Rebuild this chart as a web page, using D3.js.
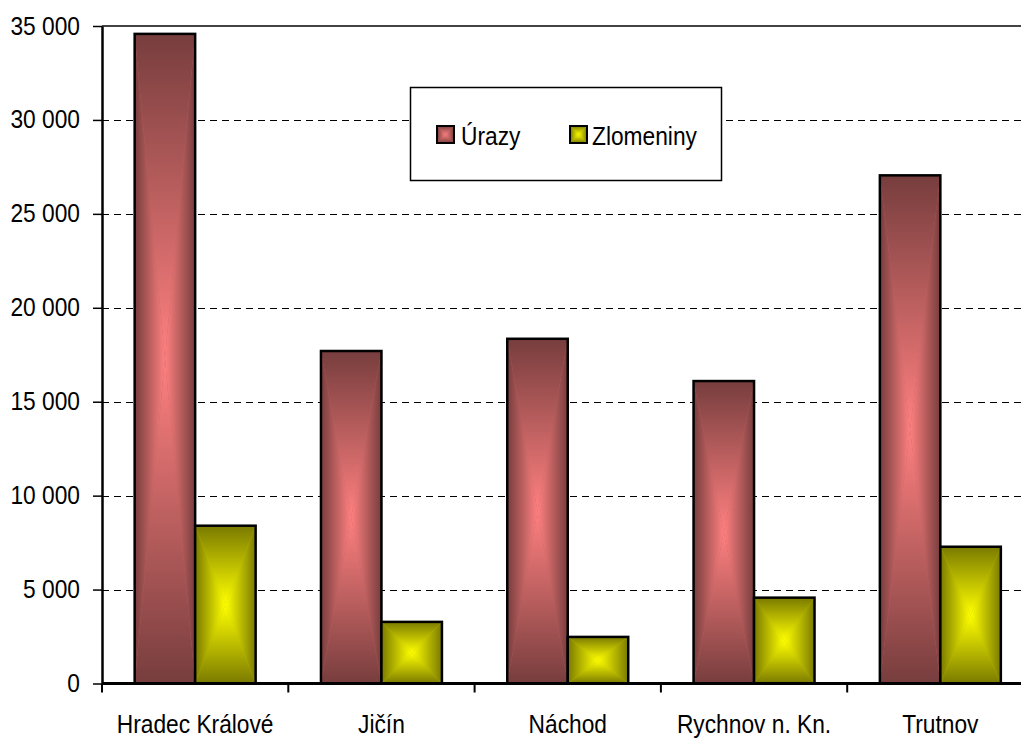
<!DOCTYPE html>
<html><head><meta charset="utf-8">
<script src="https://cdn.jsdelivr.net/npm/d3@7"></script>
<style>
html,body{margin:0;padding:0;background:#fff;}
text{font-family:"Liberation Sans",Arial,sans-serif;font-size:25px;fill:#000;}
</style></head>
<body><svg id="c" width="1021" height="738"></svg>
<script>
const categories = ["Hradec Králové","Jičín","Náchod","Rychnov n. Kn.","Trutnov"];
const seriesNames = ["Úrazy","Zlomeniny"];
const urazy = [34580, 17700, 18350, 16100, 27050];
const zlomeniny = [8400, 3280, 2480, 4570, 7280];
const yTicks = [0,5000,10000,15000,20000,25000,30000,35000];
const yTickLabels = ["0","5 000","10 000","15 000","20 000","25 000","30 000","35 000"];
const seriesColors = [["#773d3d","#ff8080"],["#7a7a00","#ffff00"]];

(function(){
const FONT = "Liberation Sans, Arial, sans-serif";
const SX = 0.91;
const svg = d3.select("#c");
const pLeft = 102, pTop = 26, pBottom = 683.5, pRight = 1033.5;

const x = d3.scaleBand().domain(categories).range([pLeft, pRight]).paddingInner(0).paddingOuter(0);
const xs = d3.scaleBand().domain(seriesNames).range([0, x.bandwidth()]).paddingInner(0).paddingOuter(0.54);
const y = d3.scaleLinear().domain([0, 35000]).range([pBottom, pTop]);

const defs = svg.append("defs");
seriesColors.forEach((c,i)=>{
  const mk=(id,x1,y1,x2,y2,c1,c2)=>{
    const g=defs.append("linearGradient").attr("id",id).attr("x1",x1).attr("y1",y1).attr("x2",x2).attr("y2",y2);
    g.append("stop").attr("offset","0").attr("stop-color",c1);
    g.append("stop").attr("offset","1").attr("stop-color",c2);
  };
  mk("gT"+i,0,0,0,1,c[0],c[1]);
  mk("gB"+i,0,0,0,1,c[1],c[0]);
  mk("gL"+i,0,0,1,0,c[0],c[1]);
  mk("gR"+i,0,0,1,0,c[1],c[0]);
});

function boxFill(g, x0, y0, x1, y1, i, sw){
  const cx=(x0+x1)/2, cy=(y0+y1)/2;
  const mid = d3.interpolateRgb(seriesColors[i][0], seriesColors[i][1])(0.5);
  g.append("rect").attr("x",x0).attr("y",y0).attr("width",x1-x0).attr("height",y1-y0).attr("fill",mid);
  const poly=(pts,id)=>g.append("polygon").attr("points",pts.map(p=>p.join(",")).join(" ")).attr("fill","url(#"+id+")");
  poly([[x0,y0],[x1,y0],[cx,cy]],"gT"+i);
  poly([[x0,y1],[x1,y1],[cx,cy]],"gB"+i);
  poly([[x0,y0],[x0,y1],[cx,cy]],"gL"+i);
  poly([[x1,y0],[x1,y1],[cx,cy]],"gR"+i);
  g.append("rect").attr("x",x0).attr("y",y0).attr("width",x1-x0).attr("height",y1-y0)
    .attr("fill","none").attr("stroke","#000").attr("stroke-width",sw);
}

svg.append("g").selectAll("line").data(yTicks.filter(v=>v>0 && v<35000)).join("line")
  .attr("x1",pLeft).attr("x2",1021).attr("y1",d=>Math.round(y(d))+0.5).attr("y2",d=>Math.round(y(d))+0.5)
  .attr("stroke","#000").attr("stroke-width",1).attr("stroke-dasharray","7,5");
svg.append("line").attr("x1",pLeft).attr("x2",1021).attr("y1",y(35000)).attr("y2",y(35000))
  .attr("stroke","#444").attr("stroke-width",2);

const series = [urazy, zlomeniny];
const barsG = svg.append("g");
categories.forEach((c,ci)=>{
  series.forEach((vals,si)=>{
    const x0 = x(c)+xs(seriesNames[si]);
    const x1 = x0+xs.bandwidth();
    boxFill(barsG.append("g"), x0, y(vals[ci]), x1, y(0), si, 2.5);
  });
});

const ya = svg.append("g").attr("transform",`translate(${pLeft},0)`)
  .call(d3.axisLeft(y).tickValues(yTicks).tickFormat((d,i)=>yTickLabels[i]).tickSize(9).tickPadding(12).tickSizeOuter(0));
ya.select(".domain").attr("stroke","#000").attr("stroke-width",2.5);
ya.selectAll(".tick line").attr("stroke","#000").attr("stroke-width",1.5);
ya.selectAll(".tick text").attr("font-size",25).attr("font-family",FONT)
  .attr("x",0).attr("dy","0.32em").attr("transform",`translate(-22,0) scale(${SX},1)`);

const xa = svg.append("g").attr("transform",`translate(0,${pBottom})`)
  .call(d3.axisBottom(x).tickSize(0).tickPadding(34).tickSizeOuter(0));
xa.select(".domain").attr("d",`M${pLeft},0H1021`).attr("stroke","#000").attr("stroke-width",3);
xa.selectAll(".tick text").attr("font-size",25).attr("font-family",FONT).attr("dy",null).attr("y",0)
  .attr("transform",`translate(0,49.5) scale(${SX},1)`);
svg.append("g").selectAll("line").data(categories).join("line")
  .attr("x1",d=>x(d)).attr("x2",d=>x(d)).attr("y1",pBottom).attr("y2",pBottom+9)
  .attr("stroke","#000").attr("stroke-width",2);

const lg = svg.append("g");
lg.append("rect").attr("x",410.5).attr("y",87.5).attr("width",311).attr("height",93)
  .attr("fill","#fff").attr("stroke","#000").attr("stroke-width",1.5);
const legX = [437, 570], legTX = [461, 592];
seriesNames.forEach((n,i)=>{
  boxFill(lg.append("g"), legX[i], 126, legX[i]+17, 143, i, 2);
  lg.append("text").attr("transform",`translate(${legTX[i]},145) scale(${SX},1)`).text(n);
});
})();
</script></body></html>
